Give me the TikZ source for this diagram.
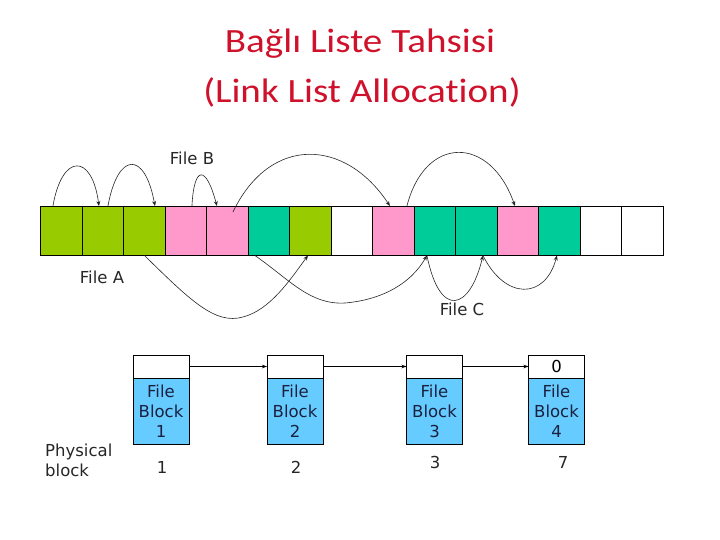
\documentclass[tikz,border=0pt]{standalone}
\usepackage{fontspec}
\setmainfont{DejaVu Sans}
\newfontfamily\titlefont[Ligatures=NoCommon]{Carlito}
\usetikzlibrary{arrows.meta}
\definecolor{cgreen}{HTML}{99CC00}
\definecolor{cpink}{HTML}{FF99CC}
\definecolor{cteal}{HTML}{00CC99}
\definecolor{cblue}{HTML}{66CCFF}
\definecolor{ctitle}{HTML}{D0112B}
\definecolor{cnavy}{HTML}{1A2040}
\begin{document}
\begin{tikzpicture}[x=1pt,y=-1pt,
  cell/.style={draw=black,line width=0.8pt,minimum width=41.5pt,minimum height=49.5pt,inner sep=0pt,outer sep=0pt},
  link/.style={draw=black!85,line width=0.6pt,-{Stealth[length=5pt,width=4pt]}},
  lbl/.style={font=\fontsize{16.5}{19}\selectfont,text=black!85,inner sep=0pt},
  ptr/.style={draw=black,line width=0.6pt,fill=white,minimum width=56pt,minimum height=23pt,inner sep=0pt,outer sep=0pt},
  dat/.style={draw=black,line width=0.6pt,fill=cblue,minimum width=56pt,minimum height=66pt,inner sep=0pt,outer sep=0pt,align=center,text=cnavy,font=\fontsize{16.5}{20}\selectfont},
  nxt/.style={draw=black,line width=0.6pt,-{Stealth[length=5pt,width=3.5pt]}},
  ttl/.style={text=ctitle,font=\titlefont\fontsize{34}{40}\selectfont,inner sep=0pt,anchor=base}]
\useasboundingbox (0,0) rectangle (720,540);
% title
\node[ttl] (t1) at (360,53) {\scalebox{1.15}[1]{Bağlı Liste Tahsisi}};
\node[ttl] (t2) at (362,103) {\scalebox{1.15}[1]{(Link List Allocation)}};
% strip of cells
\foreach \i/\c in {0/cgreen,1/cgreen,2/cgreen,3/cpink,4/cpink,5/cteal,6/cgreen,7/white,8/cpink,9/cteal,10/cteal,11/cpink,12/cteal,13/white,14/white}{
  \node[cell,fill=\c] (c\i) at ({61.45+41.5*\i},230.75) {};
}
% labels
\node[lbl] (fb) at (192,158) {File B};
\node[lbl] (fa) at (102,277) {File A};
\node[lbl] (fc) at (462,309) {File C};
% File A
\draw[link] ([xshift=-8.5pt]c0.north) .. controls (62,153) and (92,153) .. ([xshift=-4pt]c1.north);
\draw[link] ([xshift=5pt]c1.north) .. controls (118,151) and (145,151) .. ([xshift=10.5pt]c2.north);
\draw[link] (c2.south) .. controls (190,300) and (215,325) .. (243,317) .. controls (270,310) and (290,280) .. ([xshift=-2.5pt]c6.south);
% File B
\draw[link] ([xshift=6pt]c3.north) .. controls (194,165) and (206,165) .. ([xshift=-10.5pt]c4.north);
\draw[link] ([xshift=5.5pt,yshift=-6pt]c4.north) .. controls (270,135) and (345,138) .. ([xshift=-3.5pt]c8.north);
\draw[link] ([xshift=13.5pt]c8.north) .. controls (425,135) and (490,135) .. ([xshift=-3pt]c11.north);
% File C
\draw[link] ([xshift=-14pt]c5.south) .. controls (290,280) and (310,305) .. (345,303) .. controls (380,300) and (410,285) .. ([xshift=-8pt]c9.south);
\draw[link] ([xshift=-8pt]c9.south) .. controls (440,320) and (470,310) .. ([xshift=6.5pt]c10.south);
\draw[link] ([xshift=6.5pt]c10.south) .. controls (505,300) and (545,300) .. ([xshift=-2.5pt]c12.south);
% linked blocks
\foreach \k/\x/\n/\pv in {1/161/1/,2/295/2/,3/434.5/3/,4/556.5/4/0}{
  \node[ptr] (p\k) at (\x,366.5) {\fontsize{16.5}{19}\selectfont\pv};
  \node[dat] (d\k) at (\x,411) {File\\Block\\\n};
}
\node[lbl] (n1) at (162,467) {1};
\node[lbl] (n2) at (296,467) {2};
\node[lbl] (n3) at (435,462) {3};
\node[lbl] (n4) at (563,462) {7};
\node[lbl,align=left,anchor=west,font=\fontsize{16.5}{20}\selectfont] (ph) at (45,460) {Physical\\block};
\draw[nxt] (p1.east) -- (p2.west);
\draw[nxt] (p2.east) -- (p3.west);
\draw[nxt] (p3.east) -- (p4.west);
\end{tikzpicture}
\end{document}
